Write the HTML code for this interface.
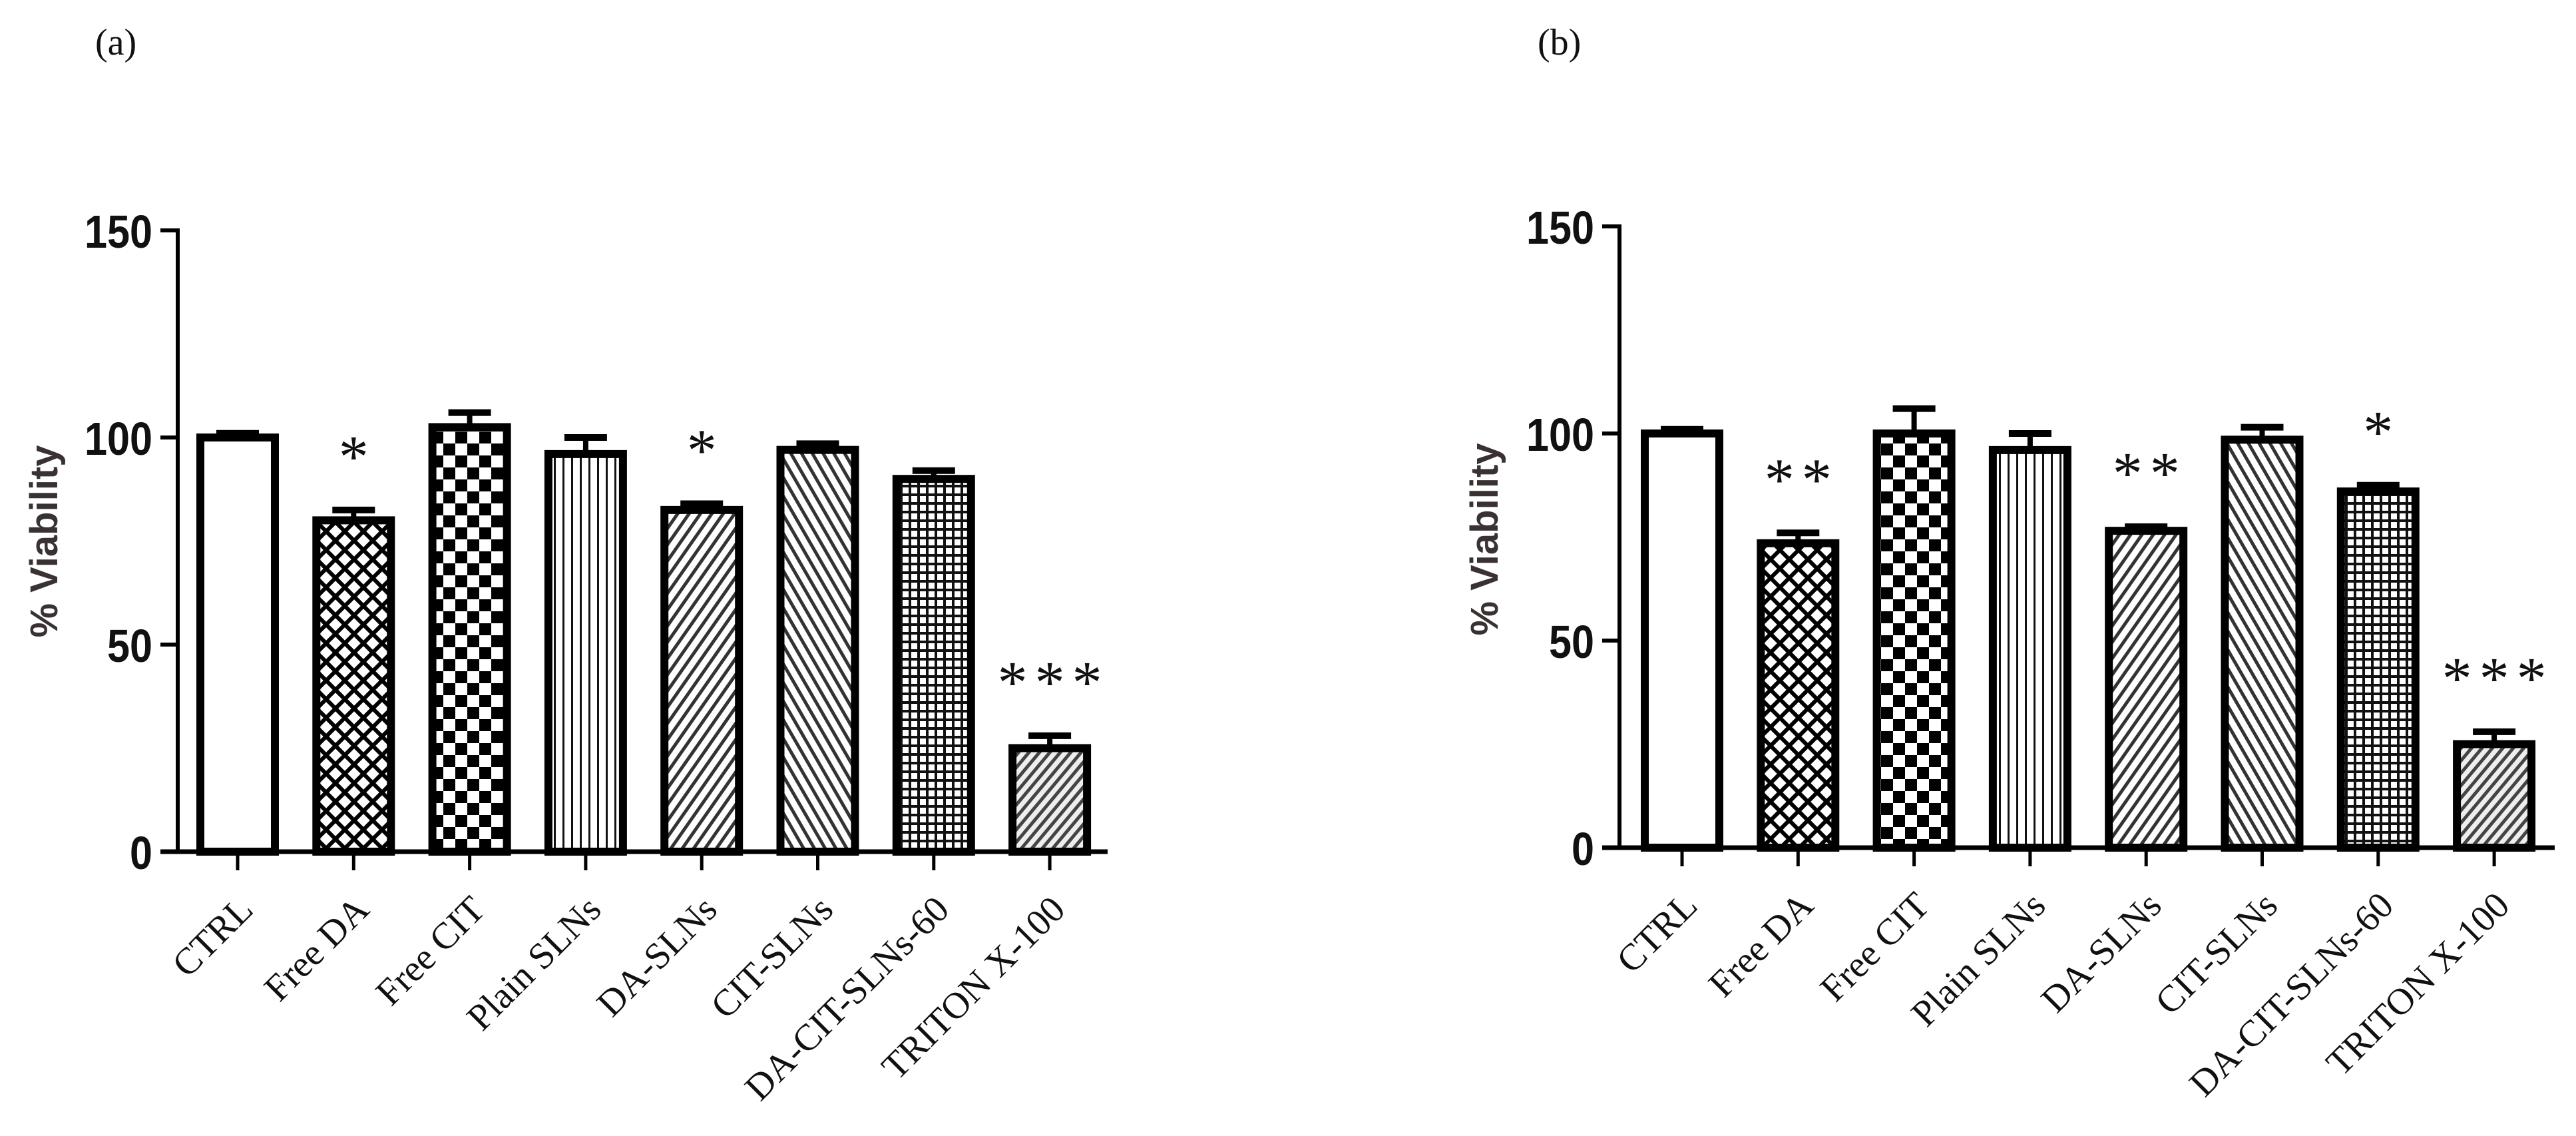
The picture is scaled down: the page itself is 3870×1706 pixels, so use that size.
<!DOCTYPE html>
<html><head><meta charset="utf-8"><style>
html,body{margin:0;padding:0;background:#fff;}
svg{display:block;}
</style></head>
<body>
<svg id="fig" width="3870" height="1706" viewBox="0 0 3870 1706" xmlns="http://www.w3.org/2000/svg">
<defs>
<pattern id="p-cross" patternUnits="userSpaceOnUse" width="28" height="28"><rect width="28" height="28" fill="#fff"/><path d="M-7,-7 L35,35 M-7,21 L7,35 M21,-7 L35,7 M35,-7 L-7,35 M7,-7 L-7,7 M35,21 L21,35" stroke="#000" stroke-width="6"/></pattern>
<pattern id="p-check" patternUnits="userSpaceOnUse" width="36" height="36"><rect width="36" height="36" fill="#fff"/><rect x="0" y="0" width="18" height="18" fill="#000"/><rect x="18" y="18" width="18" height="18" fill="#000"/></pattern>
<pattern id="p-vert" patternUnits="userSpaceOnUse" width="13" height="13"><rect width="13" height="13" fill="#fff"/><rect x="0" width="3" height="13" fill="#111"/></pattern>
<pattern id="p-fwd" patternUnits="userSpaceOnUse" width="14" height="14" patternTransform="rotate(35)"><rect width="14" height="14" fill="#fff"/><rect width="5" height="14" fill="#333"/></pattern>
<pattern id="p-back" patternUnits="userSpaceOnUse" width="14" height="14" patternTransform="rotate(-30)"><rect width="14" height="14" fill="#fff"/><rect width="5" height="14" fill="#333"/></pattern>
<pattern id="p-grid" patternUnits="userSpaceOnUse" width="13" height="13"><rect width="13" height="13" fill="#fff"/><rect width="4" height="13" fill="#111"/><rect width="13" height="4" fill="#111"/></pattern>
<pattern id="p-fine" patternUnits="userSpaceOnUse" width="12" height="12" patternTransform="rotate(40)"><rect width="12" height="12" fill="#eee"/><rect width="5" height="12" fill="#444"/></pattern>
</defs>
<g id="root"></g>
</svg>
<script>
const categories = ["CTRL","Free DA","Free CIT","Plain SLNs","DA-SLNs","CIT-SLNs","DA-CIT-SLNs-60","TRITON X-100"];
const valuesA = [100, 80, 102.5, 96, 82.5, 97, 90, 25];
const errorsA = [1, 2.5, 3.5, 4, 1.5, 1.5, 2, 3];
const starsA = ["", "*", "", "", "*", "", "", "***"];
const valuesB = [100, 73.5, 100, 96, 76.5, 98.5, 86, 25];
const errorsB = [1, 2.5, 6, 4, 1, 3, 1.5, 3];
const starsB = ["", "**", "", "", "**", "", "*", "***"];
const yTicks = [0, 50, 100, 150];
const fills = ["#fff","url(#p-cross)","url(#p-check)","url(#p-vert)","url(#p-fwd)","url(#p-back)","url(#p-grid)","url(#p-fine)"];

const NS = "http://www.w3.org/2000/svg";
const root = document.getElementById("root");
function mk(tag, attrs, parent){
  const e = document.createElementNS(NS, tag);
  for (const k in attrs) e.setAttribute(k, attrs[k]);
  (parent||root).appendChild(e);
  return e;
}

function panel(cfg, values, errors, stars, letter){
  const g = mk("g", {});
  
  
  const y = v => cfg.y0 - v * (cfg.y0 - cfg.y150) / 150;
  const x = i => cfg.firstTick + i * cfg.step;

  const lab = mk("text", {x: cfg.labelX, y: 82, "font-family": "Liberation Serif, serif", "font-size": 56, fill: "#111"}, g);
  lab.textContent = "(" + letter + ")";
  
  

  const ya = mk("line", {x1: cfg.axisX, y1: y(150)-3, x2: cfg.axisX, y2: cfg.y0+3, stroke: "#000", "stroke-width": 6}, g);
  
  
  yTicks.forEach(t => {
    const tk = mk("line", {x1: cfg.axisX-26, y1: y(t), x2: cfg.axisX, y2: y(t), stroke: "#000", "stroke-width": 6}, g);
    
    
    const tl = mk("text", {x: cfg.axisX-38, y: y(t)+26, "text-anchor": "end", "font-family": "Liberation Sans, sans-serif", "font-weight": "bold", "font-size": 70, fill: "#111", textLength: String(t).length*34, lengthAdjust: "spacingAndGlyphs"}, g);
    tl.textContent = t;
    
    
  });
  const yt = mk("text", {x: 0, y: 0, transform: `translate(${cfg.titleX},${cfg.titleY}) rotate(-90)`, "text-anchor": "middle", "font-family": "Liberation Sans, sans-serif", "font-weight": "bold", "font-size": 58, fill: "#3a3232"}, g);
  yt.textContent = "% Viability";
  
  

  categories.forEach((c, i) => {
    const cx = x(i), bw = 112;
    const top = y(values[i]);
    const et = y(values[i] + errors[i]);
    const eb = mk("line", {x1: cx, y1: et, x2: cx, y2: top, stroke: "#000", "stroke-width": 8}, g);
    
    
    const cap = mk("line", {x1: cx-32, y1: et, x2: cx+32, y2: et, stroke: "#000", "stroke-width": 10}, g);
    
    
    const bar = mk("rect", {x: cx-bw/2, y: top, width: bw, height: cfg.y0-top, fill: fills[i], stroke: "#000", "stroke-width": 12}, g);
    
    
    const xt = mk("line", {x1: cx, y1: cfg.y0, x2: cx, y2: cfg.y0+28, stroke: "#000", "stroke-width": 5}, g);
    
    
    const xl = mk("text", {x: 0, y: 0, transform: `translate(${cx+26},${cfg.y0+90}) rotate(-45)`, "text-anchor": "end", "font-family": "Liberation Serif, serif", "font-size": 56, fill: "#111"}, g);
    xl.textContent = c;
    
    
    const n = stars[i].length;
    for (let s = 0; s < n; s++) {
      const st = mk("text", {x: cx + (s - (n-1)/2) * 56, y: et - 50, "text-anchor": "middle", "font-family": "Liberation Serif, serif", "font-size": 90, fill: "#111"}, g);
      st.textContent = "*";
      
      
    }
  });
  const xa = mk("line", {x1: cfg.axisX-26, y1: cfg.y0, x2: cfg.axisEnd, y2: cfg.y0, stroke: "#000", "stroke-width": 7}, g);
  
  
}

panel({axisX: 267, axisEnd: 1664, y0: 1279, y150: 346, firstTick: 357, step: 174.3, labelX: 143, titleX: 86, titleY: 813}, valuesA, errorsA, starsA, "a");
panel({axisX: 2433, axisEnd: 3838, y0: 1273, y150: 340, firstTick: 2527, step: 174.3, labelX: 2310, titleX: 2250, titleY: 810}, valuesB, errorsB, starsB, "b");
</script>
</body></html>
